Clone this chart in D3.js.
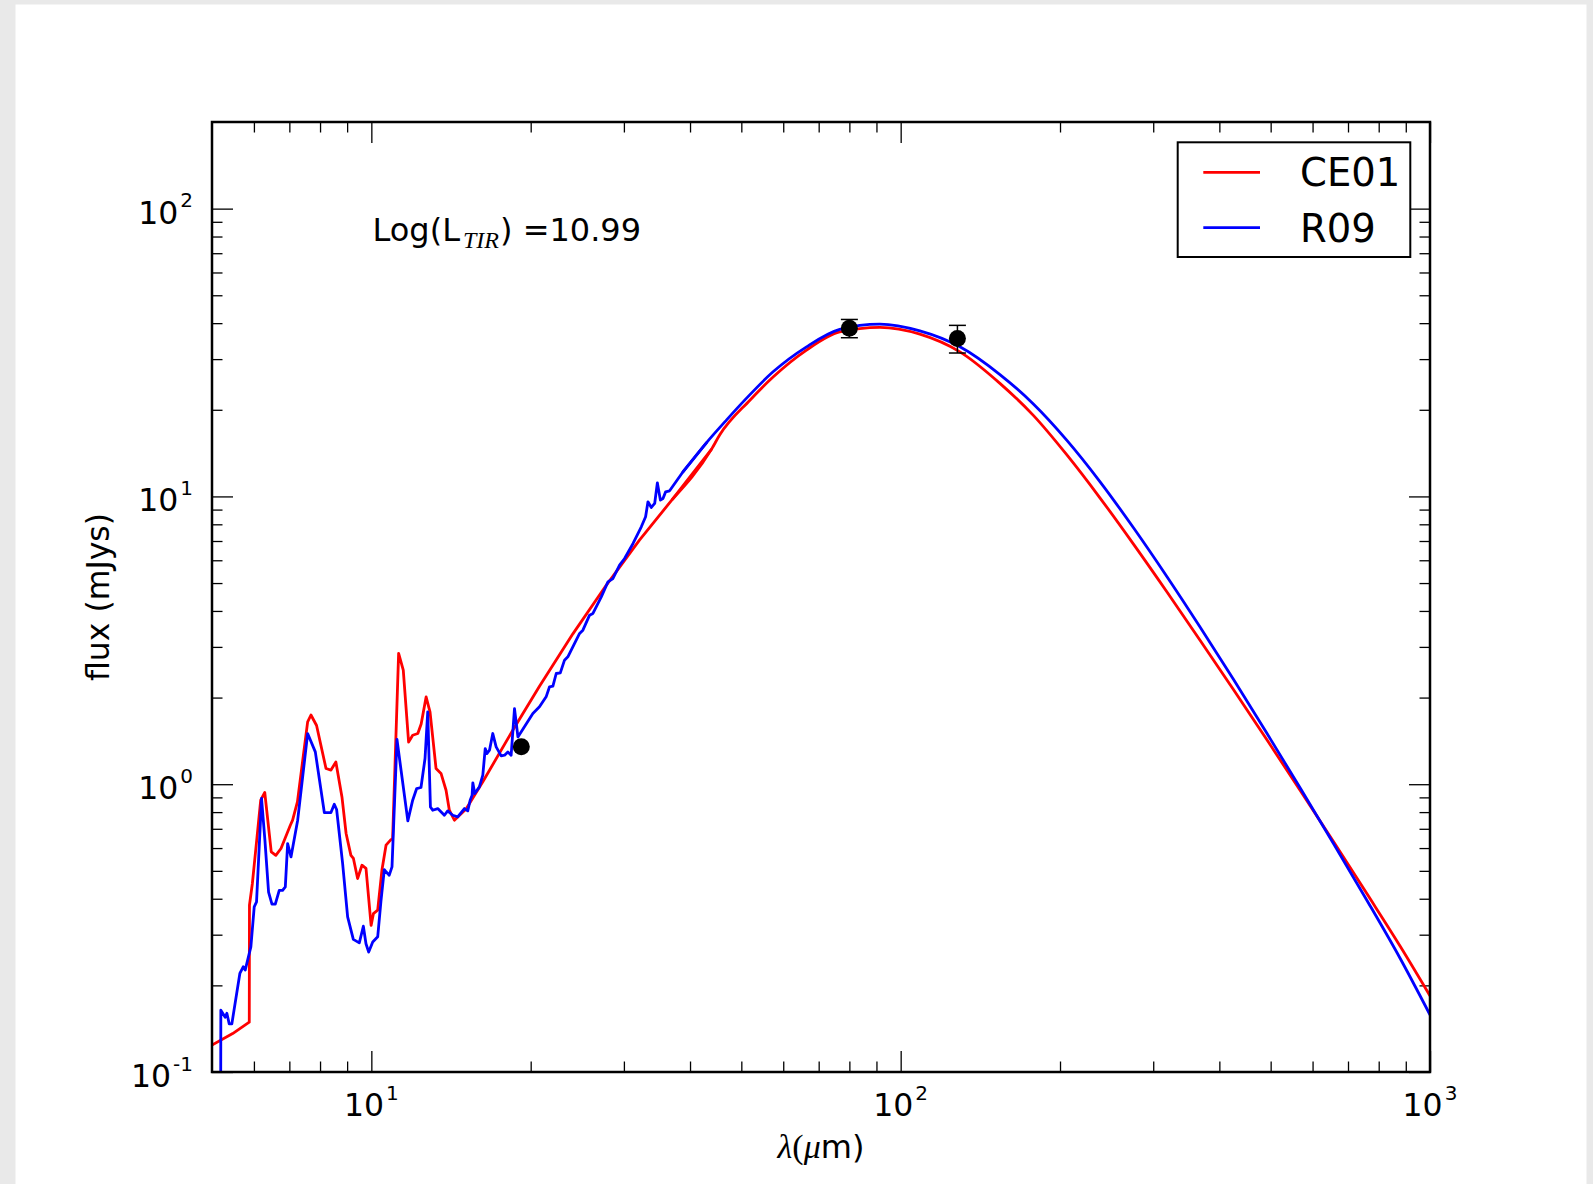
<!DOCTYPE html>
<html>
<head>
<meta charset="utf-8">
<script src="https://cdn.jsdelivr.net/npm/d3@7"></script>
<style>
  html, body { margin: 0; padding: 0; background: #e9e9e9; }
  svg { display: block; }
</style>
</head>
<body>
<svg id="chart" width="1593" height="1184"></svg>
<script>
// CE01 template SED: wavelength (micron) and flux (mJy)
const ceLambda = [5.0, 5.47, 5.88, 5.885, 5.96, 6.18, 6.29, 6.47, 6.60, 6.75, 7.03, 7.10, 7.25, 7.58, 7.69, 7.88,
  8.21, 8.39, 8.57, 8.80, 8.96, 9.15, 9.25, 9.42, 9.60, 9.77, 9.99, 10.09, 10.28, 10.47, 10.66, 10.89, 10.97,
  11.26, 11.49, 11.76, 11.97, 12.24, 12.42, 12.69, 12.91, 13.25, 13.54, 13.84, 14.04, 14.35, 15.1, 16.24, 18.5,
  20.78, 24.03, 27.8, 32.1, 37.1, 43.9, 45.5, 51.9, 57.4, 66.4, 76.7, 91.35, 108.7, 129.4, 154.0, 178.1, 205.9,
  238.1, 275.3, 318.3, 368.0, 425.5, 491.9, 568.6, 657.5, 760.3, 879.0, 1000];
const ceFlux = [0.124, 0.136, 0.149, 0.380, 0.452, 0.88, 0.936, 0.582, 0.566, 0.598, 0.72, 0.75, 0.868, 1.647, 1.74, 1.60,
  1.134, 1.12, 1.195, 0.903, 0.674, 0.566, 0.552, 0.470, 0.523, 0.510, 0.323, 0.355, 0.365, 0.502, 0.614, 0.642, 0.647,
  2.85, 2.49, 1.40, 1.48, 1.50, 1.62, 2.01, 1.78, 1.134, 1.09, 0.953, 0.812, 0.75, 0.82, 1.02, 1.54,
  2.19, 3.33, 4.92, 7.05, 9.80, 14.57, 16.34, 21.6, 26.0, 32.25, 37.3, 38.7, 36.65, 31.8, 24.71, 19.12, 13.96,
  9.87, 6.83, 4.665, 3.159, 2.129, 1.427, 0.951, 0.631, 0.416, 0.273, 0.184];

// R09 template SED
const r09Lambda = [5.19, 5.196, 5.295, 5.334, 5.389, 5.451, 5.644, 5.727, 5.777, 5.921, 6.008, 6.069, 6.203, 6.294,
  6.395, 6.490, 6.585, 6.699, 6.797, 6.878, 6.948, 7.05, 7.258, 7.58, 7.837, 8.15, 8.389, 8.511, 8.598, 8.826,
  9.02, 9.246, 9.49, 9.658, 9.77, 9.885, 10.06, 10.28, 10.43, 10.58, 10.66, 10.81, 10.94, 11.18, 11.38, 11.72,
  11.97, 12.18, 12.41, 12.63, 12.78, 12.93, 13.06, 13.35, 13.74, 13.94, 14.25, 14.56, 14.99, 15.21, 15.37, 15.50,
  15.55, 15.68, 16.00, 16.24, 16.41, 16.53, 16.72, 16.96, 17.21, 17.59, 17.85, 18.11, 18.37, 18.64, 18.92, 20.19,
  20.78, 21.39, 21.71, 22.03, 22.35, 22.75, 23.17, 23.51, 24.74, 25.10, 25.84, 26.22, 27.19, 27.99, 28.61, 29.44,
  30.09, 31.22, 32.36, 32.97, 33.31, 33.80, 34.30, 34.70, 35.16, 35.56, 35.97, 36.60, 38.80, 42.95, 46.86, 50.74,
  57.4, 66.4, 76.7, 91.35, 108.7, 129.4, 154.0, 178.1, 205.9, 238.1, 275.3, 318.3, 368.0, 425.5, 491.9, 568.6,
  657.5, 760.3, 879.0, 1000];
const r09Flux = [0.05, 0.164, 0.155, 0.160, 0.147, 0.147, 0.220, 0.232, 0.226, 0.272, 0.375, 0.390, 0.892, 0.639,
  0.422, 0.383, 0.383, 0.428, 0.428, 0.440, 0.622, 0.559, 0.75, 1.50, 1.295, 0.797, 0.797, 0.852, 0.817, 0.530,
  0.346, 0.289, 0.281, 0.321, 0.279, 0.261, 0.283, 0.295, 0.395, 0.505, 0.496, 0.483, 0.516, 1.43, 1.118, 0.746,
  0.88, 0.966, 0.974, 1.228, 1.784, 0.834, 0.812, 0.823, 0.78, 0.808, 0.78, 0.77, 0.823, 0.808, 0.88, 0.916,
  1.011, 0.928, 0.979, 1.075, 1.33, 1.278, 1.313, 1.50, 1.348, 1.254, 1.261, 1.295, 1.261, 1.832, 1.46, 1.761,
  1.857, 2.012, 2.18, 2.191, 2.425, 2.438, 2.698, 2.771, 3.340, 3.430, 3.868, 3.920, 4.479, 5.050, 5.186, 5.770,
  6.086, 6.863, 7.845, 8.495, 9.579, 9.156, 9.452, 11.15, 9.708, 9.838, 10.37, 10.46, 12.18, 15.36, 18.42, 21.61,
  27.1, 33.1, 38.05, 39.7, 37.6, 33.1, 26.5, 20.95, 15.69, 11.24, 7.78, 5.27, 3.511, 2.310, 1.503, 0.970,
  0.621, 0.3946, 0.2474, 0.158];

// Observed photometry with 1-sigma errors
const obsLambda = [19.2, 80, 128];
const obsFlux = [1.35, 38.4, 35.4];
const obsErr = [0, 2.8, 3.9];

const xMajor = [10, 100, 1000];
const yMajor = [0.1, 1, 10, 100];
const seriesNames = ["CE01", "R09"];
const seriesColors = ["#ff0000", "#0000ff"];
const logLTIR = "10.99";

const W = 1593, H = 1184;
const plot = { left: 212, right: 1430, top: 122, bottom: 1072 };
const sans = "'DejaVu Sans', 'Liberation Sans', sans-serif";
const serif = "'Liberation Serif', 'DejaVu Serif', serif";
const baseSize = 31.5;

const svg = d3.select("#chart");
svg.append("rect").attr("width", W).attr("height", H).attr("fill", "#e9e9e9");
svg.append("rect").attr("x", 15.5).attr("y", 4.5).attr("width", 1571).attr("height", H).attr("fill", "#ffffff");

const x = d3.scaleLog().domain([5, 1000]).range([plot.left, plot.right]);
const y = d3.scaleLog().domain([0.1, 200]).range([plot.bottom, plot.top]);

// minor tick positions: 2..9 times each decade inside the domain
function minors(decades, lo, hi) {
  const out = [];
  decades.forEach(d => { for (let k = 2; k <= 9; k++) { const v = k * d; if (v > lo && v < hi) out.push(v); } });
  return out;
}
const xMinor = minors([1, 10, 100], 5, 1000);
const yMinor = minors([0.1, 1, 10, 100], 0.1, 200);

svg.append("defs").append("clipPath").attr("id", "plotClip")
  .append("rect").attr("x", plot.left).attr("y", plot.top)
  .attr("width", plot.right - plot.left).attr("height", plot.bottom - plot.top);

// inward ticks on all four sides
function tickAxis(axisFn, scale, values, size, transform) {
  const g = svg.append("g").attr("transform", transform)
    .call(axisFn(scale).tickValues(values).tickSize(-size).tickFormat(""));
  g.select(".domain").remove();
  g.selectAll(".tick line").attr("stroke", "#000").attr("stroke-width", 1.3);
}
[[xMajor, 21], [xMinor, 10.5]].forEach(([vals, s]) => {
  tickAxis(d3.axisBottom, x, vals, s, `translate(0,${plot.bottom})`);
  tickAxis(d3.axisTop, x, vals, s, `translate(0,${plot.top})`);
});
[[yMajor, 21], [yMinor, 10.5]].forEach(([vals, s]) => {
  tickAxis(d3.axisLeft, y, vals, s, `translate(${plot.left},0)`);
  tickAxis(d3.axisRight, y, vals, s, `translate(${plot.right},0)`);
});

// curves: spiky mid-IR part drawn linear, smooth far-IR part as monotone curve
function drawSeries(lams, fluxes, color) {
  const pts = lams.map((l, i) => [l, fluxes[i]]);
  const split = pts.findIndex(p => p[0] >= 40);
  const lineLin = d3.line().x(d => x(d[0])).y(d => y(d[1]));
  const lineSmooth = d3.line().x(d => x(d[0])).y(d => y(d[1])).curve(d3.curveMonotoneX);
  const g = svg.append("g").attr("clip-path", "url(#plotClip)");
  g.append("path").attr("d", lineLin(pts.slice(0, split + 1)))
    .attr("fill", "none").attr("stroke", color).attr("stroke-width", 2.8)
    .attr("stroke-linejoin", "round").attr("stroke-linecap", "round");
  g.append("path").attr("d", lineSmooth(pts.slice(split - 1)))
    .attr("fill", "none").attr("stroke", color).attr("stroke-width", 2.8)
    .attr("stroke-linejoin", "round").attr("stroke-linecap", "round");
}
drawSeries(ceLambda, ceFlux, seriesColors[0]);
drawSeries(r09Lambda, r09Flux, seriesColors[1]);

// photometry points with error bars
const obs = obsLambda.map((l, i) => ({ l, f: obsFlux[i], e: obsErr[i] }));
const og = svg.append("g");
obs.filter(d => d.e > 0).forEach(d => {
  const cx = x(d.l), y0 = y(d.f - d.e), y1 = y(d.f + d.e);
  og.append("line").attr("x1", cx).attr("x2", cx).attr("y1", y0).attr("y2", y1).attr("stroke", "#000").attr("stroke-width", 1.5);
  [y0, y1].forEach(yy => og.append("line").attr("x1", cx - 8.5).attr("x2", cx + 8.5).attr("y1", yy).attr("y2", yy)
    .attr("stroke", "#000").attr("stroke-width", 1.5));
});
og.selectAll("circle").data(obs).enter().append("circle")
  .attr("cx", d => x(d.l)).attr("cy", d => y(d.f)).attr("r", 8.5).attr("fill", "#000");

// frame
svg.append("rect").attr("x", plot.left).attr("y", plot.top)
  .attr("width", plot.right - plot.left).attr("height", plot.bottom - plot.top)
  .attr("fill", "none").attr("stroke", "#000").attr("stroke-width", 2.5);

// tick labels as 10^n
function powLabel(sel, v) {
  const e = Math.round(Math.log10(v));
  sel.append("tspan").text("10");
  sel.append("tspan").attr("dx", 2).attr("dy", -16.5).attr("font-size", 20).text(String(e));
}
xMajor.forEach(v => {
  const t = svg.append("text").attr("x", x(v)).attr("y", plot.bottom + 44.3)
    .attr("text-anchor", "middle").attr("font-family", sans).attr("font-size", baseSize).attr("fill", "#000");
  powLabel(t, v);
});
yMajor.forEach(v => {
  const t = svg.append("text").attr("x", 193).attr("y", y(v) + 15)
    .attr("text-anchor", "end").attr("font-family", sans).attr("font-size", baseSize).attr("fill", "#000");
  powLabel(t, v);
});

// axis titles
const xt = svg.append("text").attr("x", (plot.left + plot.right) / 2).attr("y", 1158)
  .attr("text-anchor", "middle").attr("font-size", 34).attr("fill", "#000");
xt.append("tspan").attr("font-family", serif).attr("font-style", "italic").text("λ");
xt.append("tspan").attr("font-family", serif).text("(");
xt.append("tspan").attr("font-family", serif).attr("font-style", "italic").text("μ");
xt.append("tspan").attr("font-family", sans).attr("font-size", 32).text("m)");

svg.append("text").attr("transform", `translate(109,${(plot.top + plot.bottom) / 2}) rotate(-90)`)
  .attr("text-anchor", "middle").attr("font-family", sans).attr("font-size", baseSize).attr("fill", "#000")
  .text("flux (mJys)");

// total IR luminosity annotation
const ann = svg.append("text").attr("x", 372.5).attr("y", 241)
  .attr("font-family", sans).attr("font-size", 32).attr("fill", "#000");
ann.append("tspan").text("Log(L");
ann.append("tspan").attr("font-family", serif).attr("font-style", "italic").attr("font-size", 24)
  .attr("dx", 3).attr("dy", 7).text("TIR");
ann.append("tspan").attr("x", 500).attr("y", 241).text(") =" + logLTIR);

// legend
const lg = svg.append("g");
lg.append("rect").attr("x", 1177.7).attr("y", 142.3).attr("width", 232.6).attr("height", 114.7)
  .attr("fill", "#fff").attr("stroke", "#000").attr("stroke-width", 2);
seriesNames.forEach((name, i) => {
  const cy = 172.3 + i * 55.4;
  lg.append("line").attr("x1", 1203.3).attr("x2", 1260).attr("y1", cy).attr("y2", cy)
    .attr("stroke", seriesColors[i]).attr("stroke-width", 2.8);
  lg.append("text").attr("x", 1300).attr("y", cy + 13.8).attr("font-family", sans).attr("font-size", 38.5)
    .attr("fill", "#000").text(name);
});
</script>
</body>
</html>
